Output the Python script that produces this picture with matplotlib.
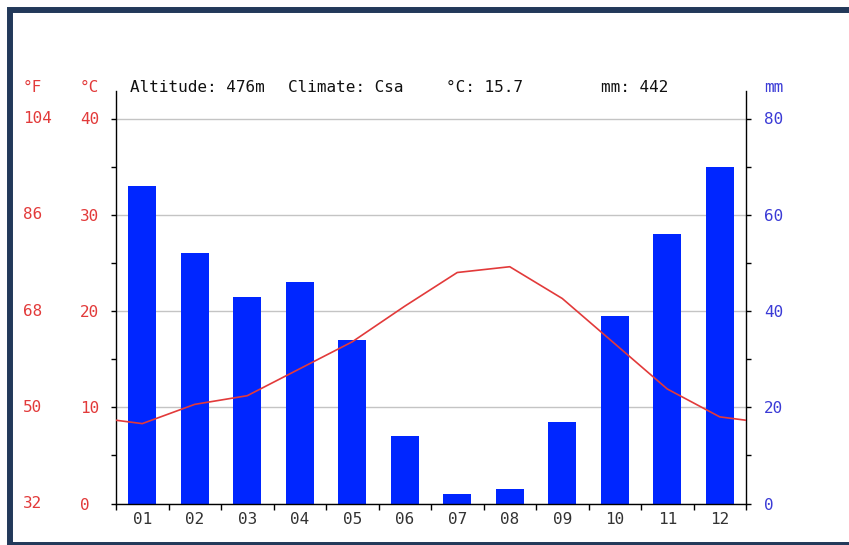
import matplotlib
matplotlib.use("Agg")
import matplotlib.pyplot as plt
from matplotlib.patches import Rectangle
from matplotlib.transforms import blended_transform_factory

# Monthly climate normals
months = ["01", "02", "03", "04", "05", "06", "07", "08", "09", "10", "11", "12"]
temperature_c = [8.3, 10.3, 11.2, 14.0, 16.8, 20.5, 24.0, 24.6, 21.3, 16.6, 11.9, 9.0]
precipitation_mm = [66, 52, 43, 46, 34, 14, 2, 3, 17, 39, 56, 70]

altitude_m = 476
climate_class = "Csa"

celsius_ticks = [0, 10, 20, 30, 40]
celsius_minor = [5, 15, 25, 35]
mm_ticks = [0, 20, 40, 60, 80]
mm_minor = [10, 30, 50, 70]

RED = "#e23a3a"
BLUE = "#3b3bd6"
BAR = "#0026ff"
BORDER = "#22395a"
FONT = "DejaVu Sans Mono"
FS = 11.5

W, H = 849, 545
fig = plt.figure(figsize=(W / 100, H / 100), dpi=100)
fig.patch.set_facecolor("white")

# frame around the chart
fig.add_artist(Rectangle((10 / W, 0), 1.05, 1 - 9.75 / H, transform=fig.transFigure,
                         fill=False, edgecolor=BORDER, linewidth=4.3, clip_on=False))

left, right, bottom, top = 116, 746, 503.5, 91
ax_p = fig.add_axes([left / W, 1 - bottom / H, (right - left) / W, (bottom - top) / H])
ax_t = ax_p.twinx()

t_top = celsius_ticks[-1] * (bottom - top) / (bottom - 118.5)
ax_t.set_ylim(0, t_top)
ax_p.set_ylim(0, 2 * t_top)
ax_p.set_xlim(0.5, 12.5)

x = list(range(1, 13))

# precipitation bars
ax_p.set_axisbelow(True)
ax_p.bar(x, precipitation_mm, width=0.53, color=BAR, zorder=2)
ax_p.yaxis.grid(True, color="#c4c4c4", linewidth=1)

# temperature line, closed at the year boundaries
edge = (temperature_c[0] + temperature_c[-1]) / 2
ax_t.plot([0.5] + x + [12.5], [edge] + temperature_c + [edge],
          color=RED, linewidth=1.2, zorder=3)

# spines
for s in ax_t.spines.values():
    s.set_visible(False)
ax_p.spines["top"].set_visible(False)
for s in ("left", "right", "bottom"):
    ax_p.spines[s].set_linewidth(1)
    ax_p.spines[s].set_color("black")

# precipitation axis (right)
ax_p.yaxis.set_ticks_position("right")
ax_p.set_yticks(mm_ticks)
ax_p.set_yticks(mm_minor, minor=True)
ax_p.set_yticklabels([str(v) for v in mm_ticks])
ax_p.tick_params(axis="y", which="both", direction="out", length=3.6, width=1,
                 colors="black", labelcolor=BLUE, labelsize=FS, pad=9.4)

# temperature axis (left)
ax_t.yaxis.set_ticks_position("left")
ax_t.set_yticks(celsius_ticks)
ax_t.set_yticks(celsius_minor, minor=True)
ax_t.set_yticklabels([str(v) for v in celsius_ticks])
ax_t.tick_params(axis="y", which="both", direction="out", length=3.6, width=1,
                 colors="black", labelcolor=RED, labelsize=FS, pad=22.4)
for lbl in ax_t.get_yticklabels():
    lbl.set_horizontalalignment("left")
    lbl.set_fontfamily(FONT)
for lbl in ax_p.get_yticklabels():
    lbl.set_fontfamily(FONT)

# month axis
ax_p.set_xticks(x)
ax_p.set_xticklabels(months)
ax_p.set_xticks([v + 0.5 for v in [0] + x], minor=True)
ax_p.tick_params(axis="x", which="major", length=0, labelsize=FS, labelcolor="#333333", pad=6)
ax_p.tick_params(axis="x", which="minor", length=4, width=1, direction="out")
for lbl in ax_p.get_xticklabels():
    lbl.set_fontfamily(FONT)

# Fahrenheit column
tr = blended_transform_factory(fig.transFigure, ax_t.transData)
for c in celsius_ticks:
    f = round(c * 9 / 5 + 32)
    fig.text(23 / W, c, str(f), transform=tr, color=RED, fontsize=FS,
             family=FONT, ha="left", va="center")

# header row
hy = 1 - 87 / H
fig.text(23 / W, hy, "°F", color=RED, fontsize=FS, family=FONT, ha="left", va="center")
fig.text(80 / W, hy, "°C", color=RED, fontsize=FS, family=FONT, ha="left", va="center")
fig.text(764 / W, hy, "mm", color=BLUE, fontsize=FS, family=FONT, ha="left", va="center")

mean_t = sum(temperature_c) / len(temperature_c)
total_p = sum(precipitation_mm)
header = [
    (130, f"Altitude: {altitude_m}m"),
    (288, f"Climate: {climate_class}"),
    (446, f"°C: {mean_t:.1f}"),
    (601, f"mm: {total_p}"),
]
for px, txt in header:
    fig.text(px / W, hy, txt, color="#111111", fontsize=FS, family=FONT,
             ha="left", va="center")

fig.savefig("out.png", dpi=100, facecolor="white")
